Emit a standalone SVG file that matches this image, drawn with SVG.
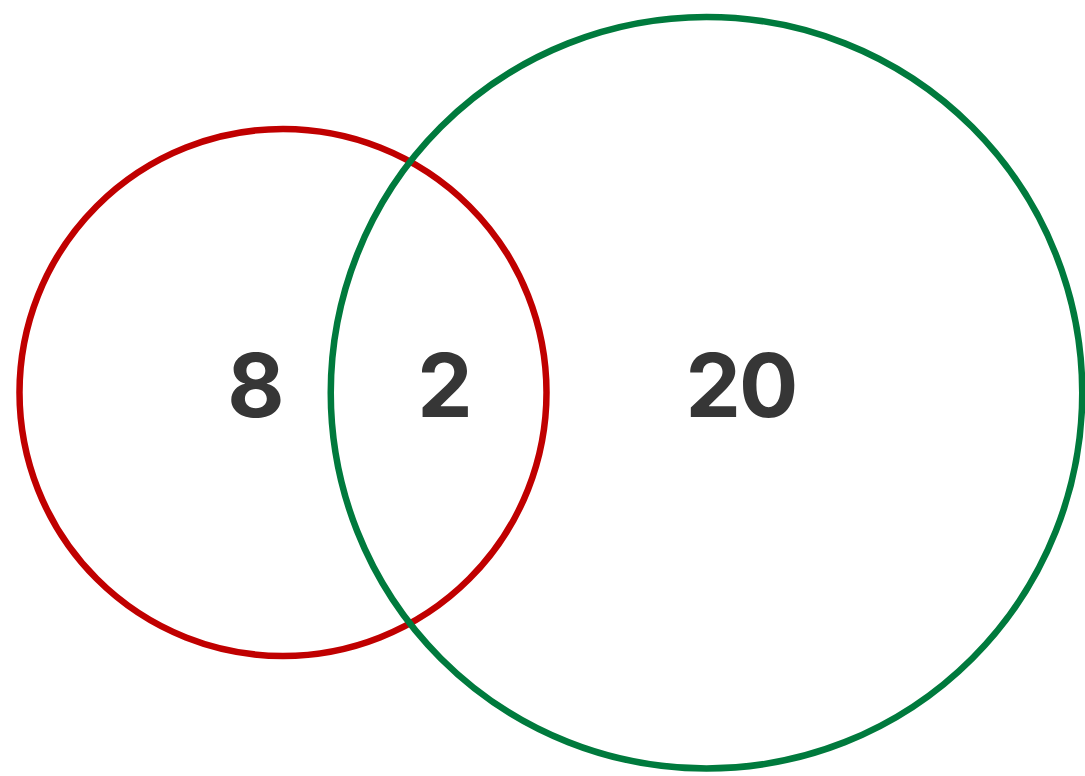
<svg xmlns="http://www.w3.org/2000/svg" width="1085" height="776" viewBox="0 0 1085 776">
<style>
.set{fill:none;stroke-width:6.5}
.lbl{font-family:Inter,"Liberation Sans",sans-serif;font-weight:700;font-size:88px;fill:#363636;text-anchor:middle;letter-spacing:-2px}
</style>
<rect width="1085" height="776" fill="#fff"/>
<g id="setA"><circle class="set" cx="283" cy="392.5" r="263.5" stroke="#c00000"/></g>
<g id="setB"><circle class="set" cx="706.5" cy="392.75" r="375.75" stroke="#007a3d"/></g>
<g id="labels">
<text class="lbl" x="255" y="417">8</text>
<text class="lbl" x="444" y="417">2</text>
<text class="lbl" x="741" y="417">20</text>
</g>
<g id="connectors"/>
</svg>
